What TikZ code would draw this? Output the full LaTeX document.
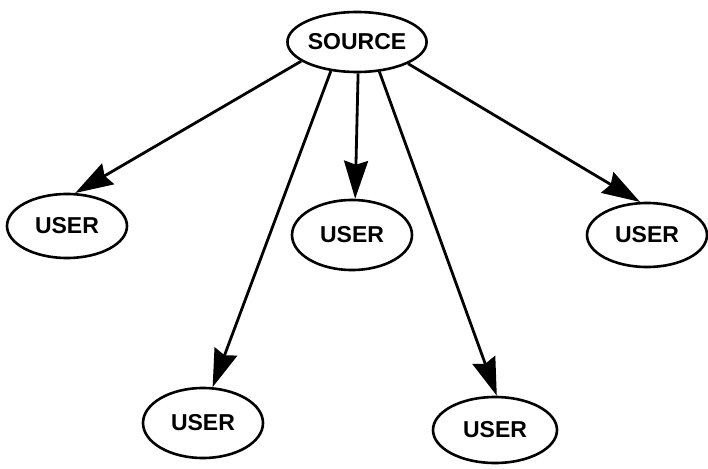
\documentclass[tikz,border=0pt]{standalone}
\usepackage{fontspec}
\setmainfont{Liberation Sans}
\usetikzlibrary{arrows.meta,shapes.geometric}

\tikzset{
  station/.style={draw, ellipse, line width=2.6pt, minimum width=120pt, minimum height=64pt, inner sep=0pt, font=\fontsize{23}{23}\selectfont\bfseries},
  feed/.style={line width=2.8pt, -{Stealth[length=38pt,width=24pt,inset=4pt]}}
}

\begin{document}
\begin{tikzpicture}[x=1pt,y=1pt,yscale=-1,xscale=1]
\useasboundingbox (0,0) rectangle (708,468);

%Shape: Ellipse
\node[station, minimum height=60pt, minimum width=122pt] (src) at (357,42) {SOURCE};
%Shape: Ellipse
\node[station] (userA) at (67,226) {USER};
%Shape: Ellipse
\node[station, minimum height=70pt] (userB) at (352,235) {USER};
%Shape: Ellipse
\node[station] (userC) at (647,235) {USER};
%Shape: Ellipse
\node[station, minimum height=70pt] (userD) at (203,423) {USER};
%Shape: Ellipse
\node[station, minimum height=66pt, minimum width=124pt] (userE) at (495,430) {USER};

%Straight Lines
\draw[feed] (src.199) -- (userA.76);
%Straight Lines
\draw[feed] (src.228) -- (userD.75);
%Straight Lines
\draw[feed] (src.272) -- (userB.85);
%Straight Lines
\draw[feed] (src.307) -- (userE.87);
%Straight Lines
\draw[feed] (src.337) -- (userC.102);

\end{tikzpicture}
\end{document}
